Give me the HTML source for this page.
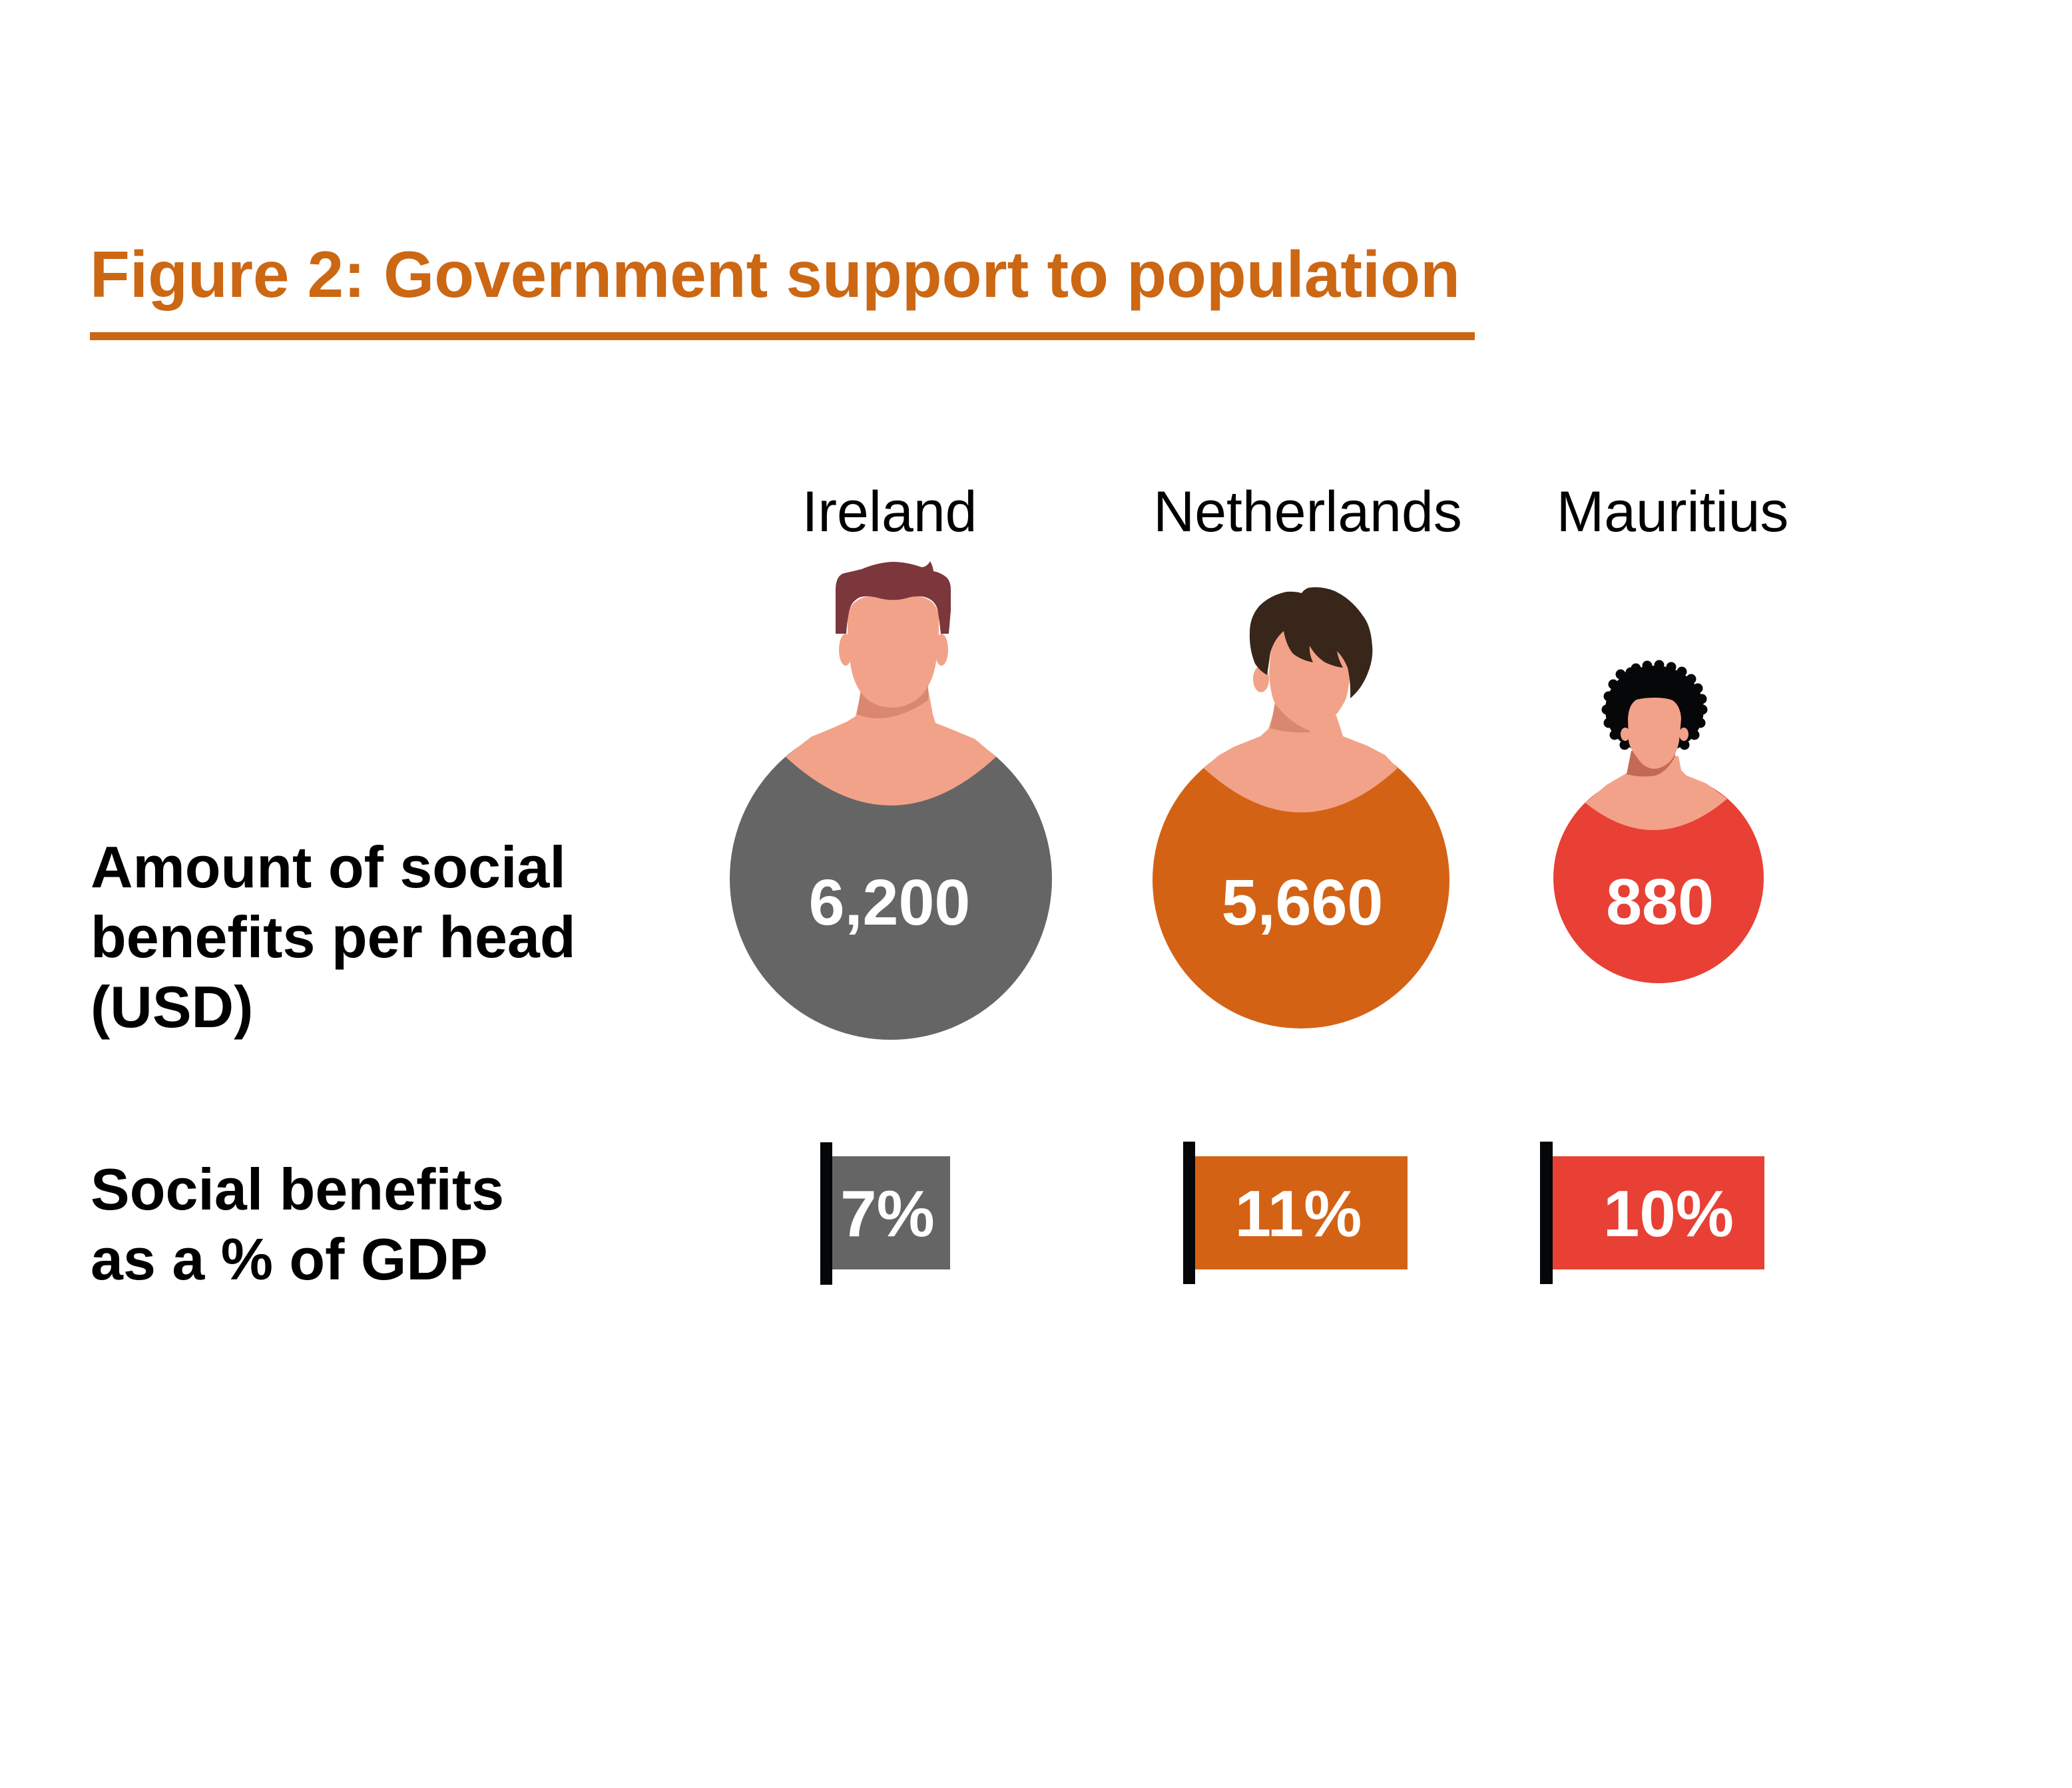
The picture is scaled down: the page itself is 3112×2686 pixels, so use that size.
<!DOCTYPE html>
<html>
<head>
<meta charset="utf-8">
<style>
  html,body{margin:0;padding:0;background:#ffffff;}
  svg{display:block;}
  text{font-family:"Liberation Sans", Arial, Helvetica, sans-serif;}
</style>
</head>
<body>
<svg xmlns="http://www.w3.org/2000/svg" width="3112" height="2686" viewBox="0 0 3112 2686">
  <rect x="0" y="0" width="3112" height="2686" fill="#ffffff"/>

  <!-- Title -->
  <text x="135" y="446" font-size="98" font-weight="bold" fill="#CC6714">Figure 2: Government support to population</text>
  <rect x="135" y="499" width="2080" height="12" fill="#CC6714"/>

  <!-- Country labels -->
  <text x="1336" y="798" font-size="86" fill="#000000" text-anchor="middle">Ireland</text>
  <text x="1964" y="798" font-size="86" fill="#000000" text-anchor="middle">Netherlands</text>
  <text x="2512" y="798" font-size="86" fill="#000000" text-anchor="middle">Mauritius</text>

  <!-- Row labels -->
  <g font-size="88" font-weight="bold" fill="#000000">
    <text x="136" y="1333">Amount of social</text>
    <text x="136" y="1438">benefits per head</text>
    <text x="136" y="1543">(USD)</text>
    <text x="136" y="1817">Social benefits</text>
    <text x="136" y="1922">as a % of GDP</text>
  </g>

  <!-- ===== Ireland figure ===== -->
  <circle cx="1338" cy="1320" r="242" fill="#656565"/>
  <path d="M1180,1137 Q1338,1283 1496,1137 L1464,1110 L1430,1096 L1405,1086 L1401,1073 L1394,1035 L1293,1040 L1285,1076 L1272,1084 L1245,1096 L1218,1107 Z" fill="#F2A289"/>
  <path d="M1293,1036 L1287,1073 Q1335,1092 1394,1052 L1394,1030 Z" fill="#DA876F"/>
  <ellipse cx="1270" cy="976" rx="10" ry="24" fill="#F2A289"/>
  <ellipse cx="1414" cy="976" rx="10" ry="24" fill="#F2A289"/>
  <path d="M1273,950 L1273,925 Q1278,898 1310,895 L1375,895 Q1406,898 1410,925 L1410,950 Q1408,995 1401,1015 Q1393,1038 1378,1050 Q1360,1063 1340,1063 Q1318,1063 1302,1050 Q1288,1038 1281,1015 Q1275,995 1273,950 Z" fill="#F2A289"/>
  <path d="M1255,952 L1255,884 Q1256,864 1268,861 Q1282,858 1294,855 Q1318,845 1340,844 Q1362,844 1384,852 Q1392,852 1397,843 Q1401,850 1402,858 Q1412,860 1420,866 Q1428,872 1428,886 L1428,917 L1425,952 L1413,952 Q1410,925 1408,915 Q1403,899 1385,896 Q1372,895 1360,899 Q1340,904 1318,898 Q1303,894 1292,897 Q1278,903 1275,920 Q1272,935 1271,952 Z" fill="#7B373B"/>
  <text x="1336" y="1389" font-size="97" font-weight="bold" fill="#ffffff" text-anchor="middle">6,200</text>

  <!-- ===== Netherlands figure ===== -->
  <circle cx="1954" cy="1322" r="223" fill="#D46215"/>
  <path d="M1808,1154 Q1954,1287 2099,1154 L2080,1134 L2053,1120 L2017,1106 L2013,1093 L2007,1075 L1916,1060 L1905,1095 L1893,1106 L1853,1122 L1830,1135 Z" fill="#F2A289"/>
  <path d="M1916,1050 L1908,1094 Q1935,1102 1968,1100 L1960,1088 Z" fill="#DA876F"/>
  <ellipse cx="1894" cy="1020" rx="12" ry="20" fill="#F2A289"/>
  <path d="M1910,960 Q1930,935 1970,940 Q2015,945 2025,1000 L2027,1020 Q2024,1045 2020,1053 Q2012,1068 2006,1074 Q1990,1090 1968,1098 Q1940,1088 1917,1060 Q1908,1047 1906,1010 Z" fill="#F2A289"/>
  <path d="M1877,950 Q1876,975 1885,997 Q1892,1008 1903,1014 Q1906,995 1908,980 Q1914,960 1928,948 Q1932,970 1942,982 Q1955,992 1972,995 Q1966,982 1967,970 Q1975,985 1990,995 Q2005,1002 2017,1003 Q2010,990 2008,978 Q2018,988 2024,1003 Q2029,1025 2028,1049 Q2045,1035 2054,1012 Q2063,990 2061,970 Q2059,940 2047,925 Q2030,900 2005,888 Q1985,880 1965,883 Q1958,886 1955,891 Q1945,888 1932,889 Q1905,895 1890,912 Q1877,928 1877,950 Z" fill="#38261A"/>
  <text x="1956" y="1389" font-size="97" font-weight="bold" fill="#ffffff" text-anchor="middle">5,660</text>

  <!-- ===== Mauritius figure ===== -->
  <circle cx="2491" cy="1319" r="158" fill="#E84035"/>
  <g fill="#060709">
    <ellipse cx="2485" cy="1066" rx="74" ry="66"/>
    <circle cx="2557" cy="1066" r="7.5"/>
    <circle cx="2554" cy="1086" r="7.5"/>
    <circle cx="2545" cy="1104" r="7.5"/>
    <circle cx="2530" cy="1119" r="7.5"/>
    <circle cx="2440" cy="1119" r="7.5"/>
    <circle cx="2425" cy="1104" r="7.5"/>
    <circle cx="2416" cy="1086" r="7.5"/>
    <circle cx="2413" cy="1066" r="7.5"/>
    <circle cx="2416" cy="1046" r="7.5"/>
    <circle cx="2423" cy="1028" r="7.5"/>
    <circle cx="2434" cy="1013" r="7.5"/>
    <circle cx="2448" cy="1013" r="0"/>
    <circle cx="2449" cy="1010" r="7.5"/>
    <circle cx="2443" cy="1017" r="7.5"/>
    <circle cx="2457" cy="1004" r="7.5"/>
    <circle cx="2474" cy="1000" r="7.5"/>
    <circle cx="2492" cy="999" r="7.5"/>
    <circle cx="2510" cy="1002" r="7.5"/>
    <circle cx="2526" cy="1009" r="7.5"/>
    <circle cx="2540" cy="1020" r="7.5"/>
    <circle cx="2550" cy="1034" r="7.5"/>
    <circle cx="2556" cy="1050" r="7.5"/>
  </g>
  <path d="M2381,1206 Q2487,1291 2594,1200 L2563,1177 L2533,1165 L2525,1157 L2521,1136 L2450,1136 L2445,1160 L2437,1165 L2413,1179 Z" fill="#F2A289"/>
  <path d="M2450,1128 L2443,1163 Q2465,1169 2487,1165 Q2505,1158 2516,1136 L2516,1122 Z" fill="#C46A54"/>
  <ellipse cx="2441" cy="1103" rx="7" ry="10" fill="#F2A289"/>
  <ellipse cx="2529" cy="1103" rx="7" ry="10" fill="#F2A289"/>
  <path d="M2445,1080 Q2446,1058 2458,1051 Q2470,1048 2485,1048 Q2502,1048 2512,1052 Q2524,1060 2525,1080 L2522,1113 Q2518,1135 2506,1146 Q2495,1155 2483,1155 Q2468,1153 2459,1138 Q2448,1125 2446,1113 Z" fill="#F2A289"/>
  <text x="2493" y="1388" font-size="97" font-weight="bold" fill="#ffffff" text-anchor="middle">880</text>

  <!-- ===== GDP bars ===== -->
  <rect x="1250" y="1737" width="177" height="170" fill="#656565"/>
  <rect x="1232" y="1716" width="18" height="214" fill="#050608"/>
  <text x="1333" y="1857" font-size="98" font-weight="bold" fill="#ffffff" text-anchor="middle">7%</text>

  <rect x="1795" y="1737" width="319" height="170" fill="#D46215"/>
  <rect x="1777" y="1715" width="18" height="214" fill="#050608"/>
  <text x="1950" y="1857" font-size="98" font-weight="bold" fill="#ffffff" text-anchor="middle">11%</text>

  <rect x="2332" y="1737" width="318" height="170" fill="#E84035"/>
  <rect x="2313" y="1715" width="19" height="214" fill="#050608"/>
  <text x="2506" y="1857" font-size="98" font-weight="bold" fill="#ffffff" text-anchor="middle">10%</text>
</svg>
</body>
</html>
